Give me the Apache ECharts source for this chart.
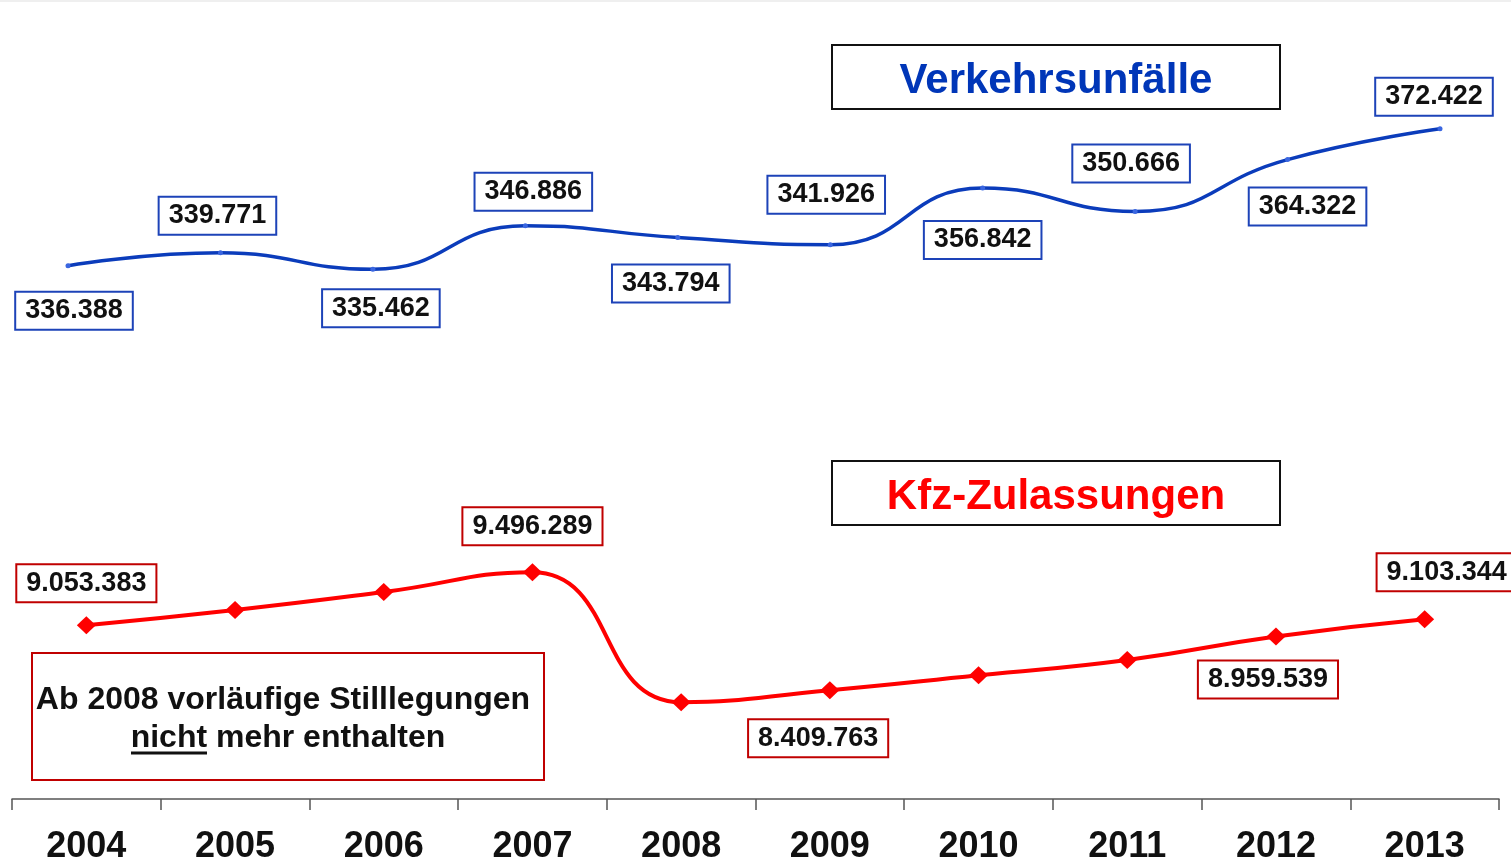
<!DOCTYPE html>
<html>
<head>
<meta charset="utf-8">
<script src="https://cdn.jsdelivr.net/npm/echarts@6/dist/echarts.min.js"></script>
<style>
  html, body { margin: 0; padding: 0; background: #fff; }
  #main { width: 1511px; height: 860px; }
</style>
</head>
<body>
<div id="main"></div>
<script>
// Jahre
var years = ['2004', '2005', '2006', '2007', '2008', '2009', '2010', '2011', '2012', '2013'];

// Verkehrsunfälle (alle Werte beschriftet)
var unfaelle = [336388, 339771, 335462, 346886, 343794, 341926, 356842, 350666, 364322, 372422];

// Kfz-Zulassungen (2005, 2006, 2009-2011 aus dem Bild geschätzt)
var zulassungen = [9053383, 9181000, 9331000, 9496289, 8409763, 8510000, 8635000, 8763000, 8959539, 9103344];

// welche Punkte der roten Linie eine Beschriftung haben
var zulLabelShown = [true, false, false, true, true, false, false, false, true, true];

// Verschiebung der Beschriftung gegenüber dem Punkt [dx, dy]
var unfLabelOffset = [[6, 45], [-3, -37], [8, 39], [8, -34], [-7, 46], [-4, -50], [0, 52], [-4, -48], [20, 47], [-6, -32]];
var zulLabelOffset = [[0, -42], null, null, [0, -46], [137, 36], null, null, null, [-8, 43], [22, -47]];

var FONT = '"Liberation Sans", Arial, sans-serif';
var blue = '#0b3cbb';
var red = '#ff0000';
var darkRed = '#c00000';

// 1.234.567 Schreibweise
function fmt(v){
	return String(v).replace(/\B(?=(\d{3})+(?!\d))/g, '.');
}

function boxLabel(border, off){
	return {
		show: true,
		position: 'inside',
		offset: off,
		formatter: function(p){ return fmt(p.value); },
		fontFamily: FONT,
		fontSize: 27,
		fontWeight: 'bold',
		color: '#111',
		backgroundColor: '#fff',
		borderColor: border,
		borderWidth: 2,
		padding: [5, 9, 4, 9]
	};
}

var unfData = unfaelle.map(function(v, i){
	return { value: v, label: boxLabel('#1d43b8', unfLabelOffset[i]) };
});

var zulData = zulassungen.map(function(v, i){
	if(!zulLabelShown[i]){
		return { value: v, label: { show: false } };
	}
	return { value: v, label: boxLabel(darkRed, zulLabelOffset[i]) };
});

var chart = echarts.init(document.getElementById('main'), null, { renderer: 'canvas' });

var option = {
	backgroundColor: '#fff',
	animation: false,
	grid: [
		{ left: 68, right: 71, top: 24, height: 304, containLabel: false, outerBoundsMode: 'none' },
		{ left: 12, right: 12, top: 512, height: 287, containLabel: false, outerBoundsMode: 'none' }
	],
	xAxis: [{
		gridIndex: 0,
		type: 'category',
		data: years,
		boundaryGap: false,
		show: false
	}, {
		gridIndex: 1,
		type: 'category',
		data: years,
		boundaryGap: true,
		axisLine: { show: true, lineStyle: { color: '#555', width: 1.5 } },
		axisTick: { show: true, length: 11, lineStyle: { color: '#555', width: 1.5 } },
		axisLabel: {
			margin: 30,
			fontFamily: FONT,
			fontSize: 36,
			fontWeight: 'bold',
			color: '#111'
		},
		splitLine: { show: false }
	}],
	yAxis: [{
		gridIndex: 0,
		type: 'value',
		min: 320000,
		max: 400000,
		show: false,
		splitLine: { show: false }
	}, {
		gridIndex: 1,
		type: 'value',
		min: 7600000,
		max: 10000000,
		show: false,
		splitLine: { show: false }
	}],
	series: [{
		name: 'Verkehrsunfälle',
		type: 'line',
		xAxisIndex: 0,
		yAxisIndex: 0,
		smooth: 0.5,
		symbol: 'circle',
		symbolSize: 5,
		itemStyle: { color: '#3a66e0' },
		lineStyle: { color: blue, width: 3.5 },
		data: unfData
	}, {
		name: 'Kfz-Zulassungen',
		type: 'line',
		xAxisIndex: 1,
		yAxisIndex: 1,
		smooth: 0.5,
		symbol: 'diamond',
		symbolSize: [19, 18],
		itemStyle: { color: red },
		lineStyle: { color: red, width: 4 },
		data: zulData
	}],
	graphic: [
		{ type: 'rect', shape: { x: 0, y: 0, width: 1511, height: 2 }, style: { fill: '#efefef' }, silent: true },
		// Titel oben
		{ type: 'rect', shape: { x: 832, y: 45, width: 448, height: 64 }, style: { fill: '#fff', stroke: '#111', lineWidth: 2 }, z: 10 },
		{ type: 'text', x: 1056, y: 81, z: 11, style: {
			text: 'Verkehrsunfälle', font: 'bold 42px ' + FONT, fill: '#0036b8', align: 'center', verticalAlign: 'middle'
		} },
		// Titel unten
		{ type: 'rect', shape: { x: 832, y: 461, width: 448, height: 64 }, style: { fill: '#fff', stroke: '#111', lineWidth: 2 }, z: 10 },
		{ type: 'text', x: 1056, y: 497, z: 11, style: {
			text: 'Kfz-Zulassungen', font: 'bold 42px ' + FONT, fill: red, align: 'center', verticalAlign: 'middle'
		} },
		// Hinweis
		{ type: 'rect', shape: { x: 32, y: 653, width: 512, height: 127 }, style: { fill: '#fff', stroke: darkRed, lineWidth: 2 }, z: 10 },
		{ type: 'text', x: 283, y: 700, z: 11, style: {
			text: 'Ab 2008 vorläufige Stilllegungen', font: 'bold 32px ' + FONT, fill: '#111', align: 'center', verticalAlign: 'middle'
		} },
		{ type: 'text', x: 288, y: 738, z: 11, style: {
			text: 'nicht mehr enthalten', font: 'bold 32px ' + FONT, fill: '#111', align: 'center', verticalAlign: 'middle'
		} },
		{ type: 'line', shape: { x1: 131, y1: 753, x2: 207, y2: 753 }, style: { stroke: '#111', lineWidth: 3 }, z: 11 }
	]
};

chart.setOption(option);
</script>
</body>
</html>
